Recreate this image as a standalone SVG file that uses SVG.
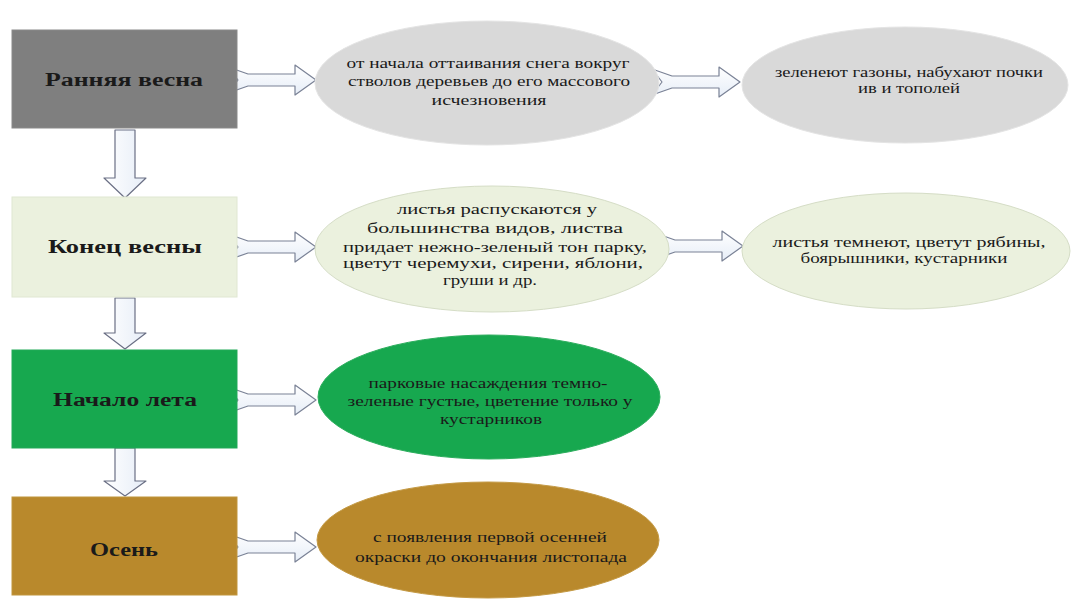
<svg xmlns="http://www.w3.org/2000/svg" width="1075" height="605" viewBox="0 0 1075 605">
<defs>
<linearGradient id="ag" x1="0" y1="0" x2="0" y2="1">
<stop offset="0" stop-color="#ffffff"/>
<stop offset="1" stop-color="#e6edf7"/>
</linearGradient>
<linearGradient id="agv" x1="0" y1="0" x2="1" y2="0">
<stop offset="0" stop-color="#ffffff"/>
<stop offset="1" stop-color="#e6edf7"/>
</linearGradient>
<path id="ha" d="M0,-13 L20,-6 L67,-6 L67,-15 L88,0 L67,15 L67,6 L20,6 L0,13 L10,0 Z"/>
</defs>
<style>
.bl{font-family:"Liberation Serif","Times New Roman",serif;font-weight:bold;font-size:18px;fill:#1a1a1a;text-anchor:middle}
.el{font-family:"Liberation Serif","Times New Roman",serif;font-size:15px;fill:#1a1a1a;text-anchor:middle}
.arr{fill:url(#ag);stroke:#7a8296;stroke-width:1.2;stroke-linejoin:round}
.varr{fill:url(#agv);stroke:#6b7085;stroke-width:1.2;stroke-linejoin:round}
</style>
<rect width="1075" height="605" fill="#ffffff"/>

<g id="connectors">
<use href="#ha" class="arr" transform="translate(228,80)"/>
<use href="#ha" class="arr" transform="translate(652,82)"/>
<use href="#ha" class="arr" transform="translate(228,247)"/>
<use href="#ha" class="arr" transform="translate(655,246)"/>
<use href="#ha" class="arr" transform="translate(228,400)"/>
<use href="#ha" class="arr" transform="translate(228,547)"/>
<path class="varr" d="M115,130 L135,130 L135,178 L146,178 L125,198 L104,178 L115,178 Z"/>
<path class="varr" d="M115,298 L135,298 L135,333 L146,333 L125,349 L104,333 L115,333 Z"/>
<path class="varr" d="M115,448 L135,448 L135,481 L146,481 L125,496 L104,481 L115,481 Z"/>
</g>

<g id="n1">
<rect x="12" y="30" width="225" height="98" fill="#7f7f7f" stroke="#8a8a8a"/>
<text class="bl" x="124" y="86" textLength="158" lengthAdjust="spacingAndGlyphs">Ранняя весна</text>
</g>
<g id="e1">
<ellipse cx="487" cy="83" rx="172" ry="62" fill="#d9d9d9" stroke="#e4e4e4"/>
<text class="el" x="488" y="68" textLength="283" lengthAdjust="spacingAndGlyphs">от начала оттаивания снега вокруг</text>
<text class="el" x="489" y="86" textLength="282" lengthAdjust="spacingAndGlyphs">стволов деревьев до его массового</text>
<text class="el" x="489" y="105" textLength="115" lengthAdjust="spacingAndGlyphs">исчезновения</text>
</g>
<g id="e2">
<ellipse cx="905" cy="85" rx="163" ry="58" fill="#d9d9d9" stroke="#e4e4e4"/>
<text class="el" x="909" y="77" textLength="268" lengthAdjust="spacingAndGlyphs">зеленеют газоны, набухают почки</text>
<text class="el" x="909" y="93" textLength="102" lengthAdjust="spacingAndGlyphs">ив и тополей</text>
</g>

<g id="n2">
<rect x="12" y="197" width="225" height="100" fill="#ebf1de" stroke="#e0e7d2"/>
<text class="bl" x="125" y="253" textLength="154" lengthAdjust="spacingAndGlyphs">Конец весны</text>
</g>
<g id="e3">
<ellipse cx="492" cy="249" rx="177" ry="63" fill="#ebf1de" stroke="#d5ddc6"/>
<text class="el" x="497" y="214" textLength="200" lengthAdjust="spacingAndGlyphs">листья распускаются у</text>
<text class="el" x="495" y="233" textLength="256" lengthAdjust="spacingAndGlyphs">большинства видов, листва</text>
<text class="el" x="495" y="252" textLength="304" lengthAdjust="spacingAndGlyphs">придает нежно-зеленый тон парку,</text>
<text class="el" x="493" y="268" textLength="300" lengthAdjust="spacingAndGlyphs">цветут черемухи, сирени, яблони,</text>
<text class="el" x="490" y="285" textLength="94" lengthAdjust="spacingAndGlyphs">груши и др.</text>
</g>
<g id="e4">
<ellipse cx="906" cy="251" rx="164" ry="58" fill="#ebf1de" stroke="#d5ddc6"/>
<text class="el" x="909" y="247" textLength="273" lengthAdjust="spacingAndGlyphs">листья темнеют, цветут рябины,</text>
<text class="el" x="904" y="263" textLength="207" lengthAdjust="spacingAndGlyphs">боярышники, кустарники</text>
</g>

<g id="n3">
<rect x="12" y="350" width="225" height="98" fill="#17a84f" stroke="#22a958"/>
<text class="bl" x="125" y="406" textLength="144" lengthAdjust="spacingAndGlyphs">Начало лета</text>
</g>
<g id="e5">
<ellipse cx="489" cy="397" rx="171" ry="62" fill="#17a84f" stroke="#2bad5c"/>
<text class="el" x="488" y="388" textLength="239" lengthAdjust="spacingAndGlyphs">парковые насаждения темно-</text>
<text class="el" x="490" y="406" textLength="285" lengthAdjust="spacingAndGlyphs">зеленые густые, цветение только у</text>
<text class="el" x="491" y="424" textLength="102" lengthAdjust="spacingAndGlyphs">кустарников</text>
</g>

<g id="n4">
<rect x="12" y="497" width="225" height="98" fill="#b9892c" stroke="#c0953c"/>
<text class="bl" x="124" y="556" textLength="68" lengthAdjust="spacingAndGlyphs">Осень</text>
</g>
<g id="e6">
<ellipse cx="488" cy="540" rx="171" ry="58" fill="#b9892c" stroke="#c49a45"/>
<text class="el" x="490" y="542" textLength="234" lengthAdjust="spacingAndGlyphs">с появления первой осенней</text>
<text class="el" x="491" y="562" textLength="272" lengthAdjust="spacingAndGlyphs">окраски до окончания листопада</text>
</g>
</svg>
